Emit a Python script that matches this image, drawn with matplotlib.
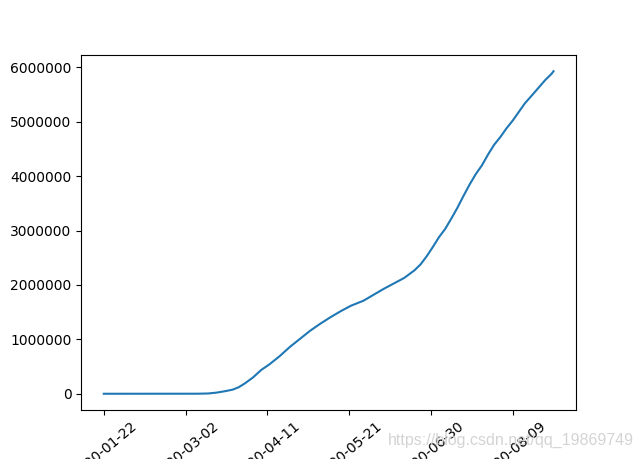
import datetime
import matplotlib
matplotlib.use("Agg")
import matplotlib.pyplot as plt

# cumulative confirmed cases (day offset from 2020-01-22)
start = datetime.date(2020, 1, 22)
n_days = 221
day = [0, 46, 51, 55, 59, 63, 66, 69, 73, 77, 81, 86, 91, 96, 101, 106, 111,
       116, 121, 127, 132, 137, 142, 147, 152, 155, 158, 161, 164, 167, 170,
       173, 176, 179, 182, 185, 188, 191, 194, 197, 200, 203, 206, 210, 213,
       216, 219, 220]
cases = [0, 1000, 5000, 20000, 45000, 75000, 120000, 190000, 300000, 437000,
         540000, 690000, 860000, 1010000, 1160000, 1290000, 1410000, 1520000,
         1620000, 1710000, 1820000, 1930000, 2030000, 2130000, 2270000,
         2380000, 2530000, 2700000, 2880000, 3030000, 3220000, 3420000,
         3640000, 3850000, 4040000, 4200000, 4400000, 4580000, 4720000,
         4880000, 5020000, 5180000, 5340000, 5510000, 5640000, 5770000,
         5880000, 5930000]

fig = plt.figure(figsize=(6.4, 4.59), dpi=100)
ax = fig.add_subplot(111)
fig.subplots_adjust(left=0.127, right=0.9, top=0.88, bottom=0.107)

ax.plot(day, cases)
ax.set_xlim(-0.05 * (n_days - 1), 1.05 * (n_days - 1))

ticks = list(range(0, n_days, 40))
labels = [(start + datetime.timedelta(days=t)).strftime("%Y-%m-%d") for t in ticks]
ax.set_xticks(ticks)
ax.set_xticklabels(labels, rotation=40)
ax.ticklabel_format(axis="y", style="plain")

fig.text(0.606, 0.04, "https://blog.csdn.net/qq_19869749", color="#d4d4d4",
         fontsize=11.5, family="Liberation Sans", ha="left", va="center")

fig.savefig("out.png", dpi=100)
